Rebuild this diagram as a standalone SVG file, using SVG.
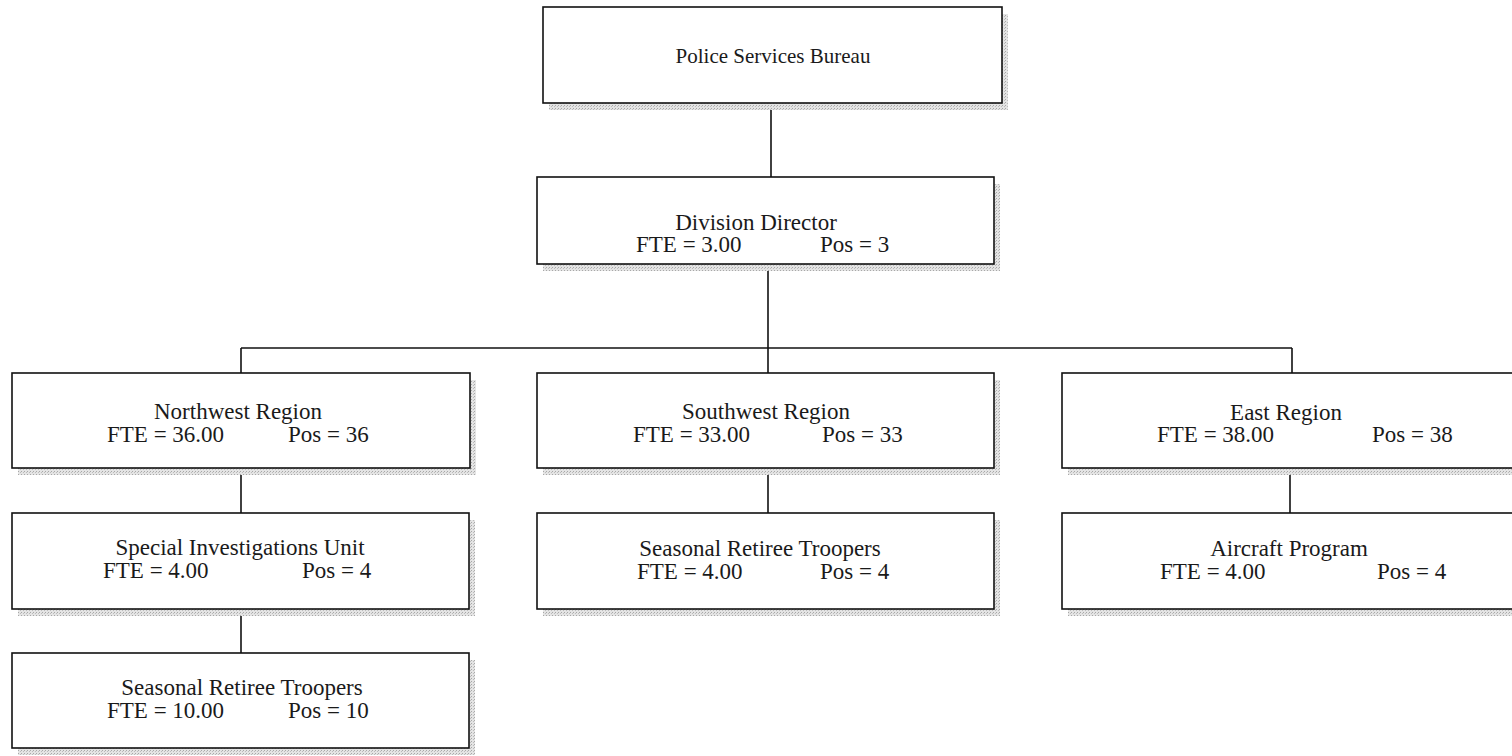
<svg xmlns="http://www.w3.org/2000/svg" width="1512" height="756" viewBox="0 0 1512 756">
  <style>
    .box { fill: #ffffff; stroke: #111111; stroke-width: 1.6; }
    .shadow { fill: url(#stipple); }
    .title { font-family: "Liberation Serif", "Times New Roman", serif; font-size: 23px; fill: #1a1a1a; text-anchor: middle; }
    .top { font-size: 21px; }
    .stat { font-family: "Liberation Serif", "Times New Roman", serif; font-size: 23px; fill: #1a1a1a; }
    .link { stroke: #111111; stroke-width: 1.6; fill: none; }
  </style>
  <defs>
    <pattern id="stipple" width="3" height="3" patternUnits="userSpaceOnUse">
      <rect width="3" height="3" fill="#e4e4e4"/>
      <rect x="0" y="0" width="1" height="1" fill="#a8a8a8"/>
      <rect x="2" y="1" width="1" height="1" fill="#bcbcbc"/>
    </pattern>
  </defs>
  <rect width="1512" height="756" fill="#ffffff"/>

  <!-- connectors -->
  <g id="connectors">
    <line class="link" x1="771" y1="104" x2="771" y2="177"/>
    <line class="link" x1="768" y1="264" x2="768" y2="373"/>
    <line class="link" x1="241" y1="348" x2="1292" y2="348"/>
    <line class="link" x1="241" y1="348" x2="241" y2="373"/>
    <line class="link" x1="1292" y1="348" x2="1292" y2="373"/>
    <line class="link" x1="241" y1="468" x2="241" y2="513"/>
    <line class="link" x1="768" y1="468" x2="768" y2="513"/>
    <line class="link" x1="1290" y1="468" x2="1290" y2="513"/>
    <line class="link" x1="241" y1="609" x2="241" y2="653"/>
  </g>

  <g id="police-services-bureau">
    <rect class="shadow" x="549" y="14" width="459" height="96"/>
    <rect class="box" x="543" y="7" width="459" height="96"/>
    <text class="title top" x="773" y="63">Police Services Bureau</text>
  </g>

  <g id="division-director">
    <rect class="shadow" x="543" y="184" width="457" height="87"/>
    <rect class="box" x="537" y="177" width="457" height="87"/>
    <text class="title" x="756" y="230">Division Director</text>
    <text class="stat" x="636" y="252">FTE = 3.00</text>
    <text class="stat" x="820" y="252">Pos = 3</text>
  </g>

  <g id="northwest-region">
    <rect class="shadow" x="18" y="380" width="458" height="95"/>
    <rect class="box" x="12" y="373" width="458" height="95"/>
    <text class="title" x="238" y="419">Northwest Region</text>
    <text class="stat" x="107" y="442">FTE = 36.00</text>
    <text class="stat" x="288" y="442">Pos = 36</text>
  </g>

  <g id="southwest-region">
    <rect class="shadow" x="543" y="380" width="457" height="95"/>
    <rect class="box" x="537" y="373" width="457" height="95"/>
    <text class="title" x="766" y="419">Southwest Region</text>
    <text class="stat" x="633" y="442">FTE = 33.00</text>
    <text class="stat" x="822" y="442">Pos = 33</text>
  </g>

  <g id="east-region">
    <rect class="shadow" x="1068" y="380" width="460" height="95"/>
    <rect class="box" x="1062" y="373" width="460" height="95"/>
    <text class="title" x="1286" y="420">East Region</text>
    <text class="stat" x="1157" y="442">FTE = 38.00</text>
    <text class="stat" x="1372" y="442">Pos = 38</text>
  </g>

  <g id="special-investigations-unit">
    <rect class="shadow" x="18" y="520" width="457" height="96"/>
    <rect class="box" x="12" y="513" width="457" height="96"/>
    <text class="title" x="240" y="555">Special Investigations Unit</text>
    <text class="stat" x="103" y="578">FTE = 4.00</text>
    <text class="stat" x="302" y="578">Pos = 4</text>
  </g>

  <g id="southwest-seasonal-retiree-troopers">
    <rect class="shadow" x="543" y="520" width="457" height="96"/>
    <rect class="box" x="537" y="513" width="457" height="96"/>
    <text class="title" x="760" y="556">Seasonal Retiree Troopers</text>
    <text class="stat" x="637" y="579">FTE = 4.00</text>
    <text class="stat" x="820" y="579">Pos = 4</text>
  </g>

  <g id="aircraft-program">
    <rect class="shadow" x="1068" y="520" width="460" height="96"/>
    <rect class="box" x="1062" y="513" width="460" height="96"/>
    <text class="title" x="1289" y="556">Aircraft Program</text>
    <text class="stat" x="1160" y="579">FTE = 4.00</text>
    <text class="stat" x="1377" y="579">Pos = 4</text>
  </g>

  <g id="northwest-seasonal-retiree-troopers">
    <rect class="shadow" x="18" y="660" width="457" height="95"/>
    <rect class="box" x="12" y="653" width="457" height="95"/>
    <text class="title" x="242" y="695">Seasonal Retiree Troopers</text>
    <text class="stat" x="107" y="718">FTE = 10.00</text>
    <text class="stat" x="288" y="718">Pos = 10</text>
  </g>
</svg>
